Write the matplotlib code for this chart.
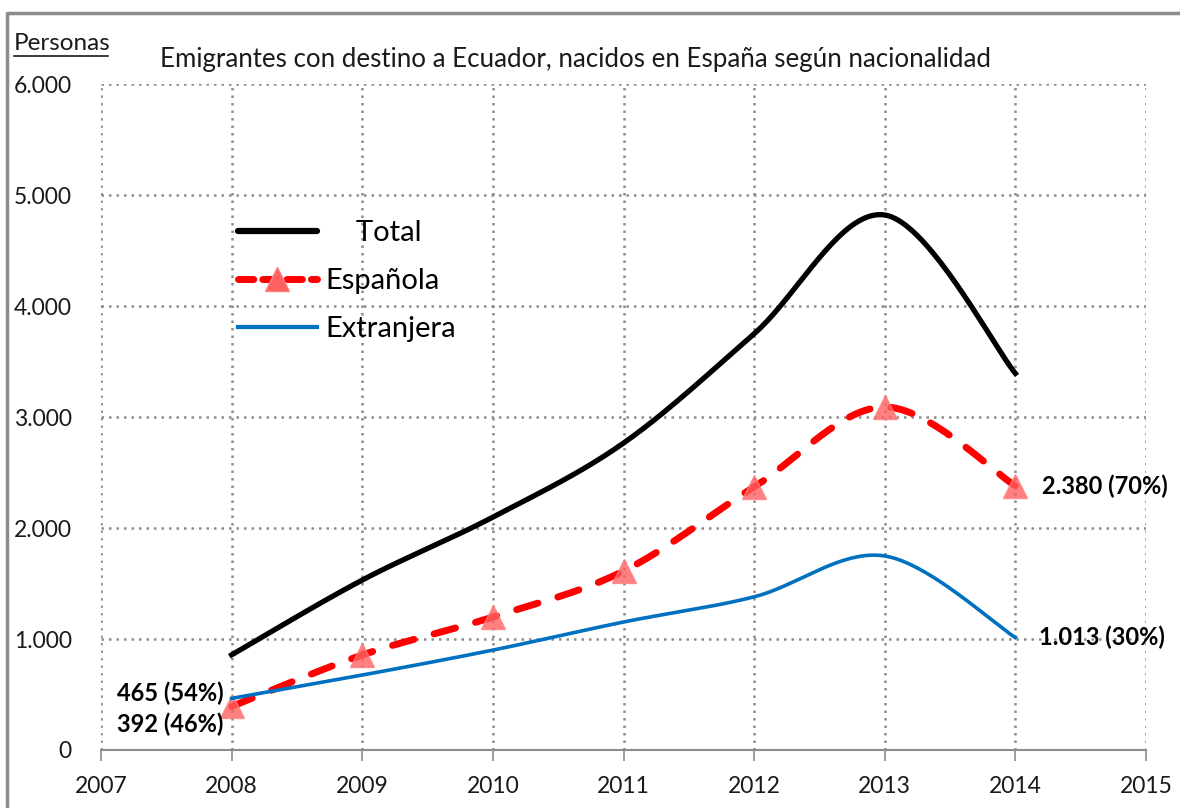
import numpy as np
import matplotlib
matplotlib.use("Agg")
import matplotlib.pyplot as plt
from matplotlib.lines import Line2D

plt.rcParams['font.family'] = ['Lato', 'DejaVu Sans']

# data
years = [2008, 2009, 2010, 2011, 2012, 2013, 2014]
total = [857, 1531, 2098, 2765, 3750, 4820, 3393]
espanola = [392, 856, 1198, 1612, 2370, 3090, 2380]
extranjera = [465, 675, 900, 1153, 1380, 1748, 1013]
labels_2008 = ["465 (54%)", "392 (46%)"]
labels_2014 = ["2.380 (70%)", "1.013 (30%)"]
yticks = [0, 1000, 2000, 3000, 4000, 5000, 6000]
ytick_labels = ["0", "1.000", "2.000", "3.000", "4.000", "5.000", "6.000"]
xticks = list(range(2007, 2016))


def smooth(x, y, n=40):
    # Excel-like smoothed line (Catmull-Rom through the points)
    x = np.asarray(x, float); y = np.asarray(y, float)
    px = np.concatenate([[x[0]], x, [x[-1]]])
    py = np.concatenate([[y[0]], y, [y[-1]]])
    xs, ys = [], []
    t = np.linspace(0, 1, n)
    for i in range(1, len(px) - 2):
        for p, out in ((px, xs), (py, ys)):
            p0, p1, p2, p3 = p[i - 1], p[i], p[i + 1], p[i + 2]
            c1 = p1 + (p2 - p0) / 6
            c2 = p2 - (p3 - p1) / 6
            out.extend((1 - t) ** 3 * p1 + 3 * (1 - t) ** 2 * t * c1
                       + 3 * (1 - t) * t ** 2 * c2 + t ** 3 * p2)
    return np.array(xs), np.array(ys)


fig = plt.figure(figsize=(11.8, 8.08), dpi=100)
ax = fig.add_axes([101 / 1180, 1 - 750 / 808, 1045 / 1180, 666 / 808])

# outer frame: only top and left edges show
fig.add_artist(Line2D([7 / 1180, 7 / 1180, 1.0], [0.0, 1 - 13 / 808, 1 - 13 / 808],
                      color='#8c8c8c', lw=2.5, transform=fig.transFigure))

red = '#FF0000'
blue = '#0070C0'

sx, sy = smooth(years, espanola)
ax.plot(sx, sy, color=red, lw=5, dashes=(3.2, 3.0), solid_capstyle='round',
        dash_capstyle='round', zorder=3)
ax.plot(years, espanola, ls='none', marker='^', ms=17, mfc='#FF6060',
        mec='#FF8080', alpha=0.8, zorder=4)
sx, sy = smooth(years, extranjera)
ax.plot(sx, sy, color=blue, lw=2.6, zorder=5)
sx, sy = smooth(years, total)
ax.plot(sx, sy, color='black', lw=3.8, zorder=6)

ax.set_xlim(2007, 2015)
ax.set_ylim(0, 6000)
ax.set_xticks(xticks)
ax.set_xticklabels([str(v) for v in xticks], fontsize=16.5, color='#1a1a1a')
ax.set_yticks(yticks)
ax.set_yticklabels(ytick_labels, fontsize=16.5, color='#1a1a1a')
ax.grid(True, color='#8c8c8c', ls=(0, (1, 2)), lw=1.8)
for s in ('top', 'right', 'left'):
    ax.spines[s].set_visible(False)
ax.spines['bottom'].set_color('#8c8c8c')
ax.spines['bottom'].set_linewidth(1.5)
ax.tick_params(axis='x', length=8, color='#8c8c8c', width=1.2, pad=11)
ax.tick_params(axis='y', length=0, pad=21)

# value labels
ax.text(years[0] - 0.06, extranjera[0] + 50, labels_2008[0], ha='right', va='center',
        fontsize=17, fontweight='bold', zorder=7)
ax.text(years[0] - 0.06, espanola[0] - 160, labels_2008[1], ha='right', va='center',
        fontsize=17, fontweight='bold', zorder=7)
ax.text(years[-1] + 0.2, espanola[-1], labels_2014[0], ha='left', va='center',
        fontsize=17, fontweight='bold', zorder=7)
ax.text(years[-1] + 0.18, extranjera[-1], labels_2014[1], ha='left', va='center',
        fontsize=17, fontweight='bold', zorder=7)

handles = [
    Line2D([], [], color='black', lw=4.5, solid_capstyle='round'),
    Line2D([], [], color=red, lw=5, dashes=(2.2, 1.3), solid_capstyle='round',
           dash_capstyle='round', marker='^', ms=17, mfc='#FF6060', mec='#FF8080'),
    Line2D([], [], color=blue, lw=3),
]
ax.legend(handles, ["    Total", "Española", "Extranjera"], loc='upper left',
          bbox_to_anchor=(0.106, 0.835), frameon=False, fontsize=21,
          handlelength=2.7, handletextpad=0.3, labelspacing=0.75)

fig.text(160 / 1180, 1 - 60 / 808,
         "Emigrantes con destino a Ecuador, nacidos en España según nacionalidad",
         fontsize=18.6, color='#1a1a1a', ha='left', va='center')
fig.text(14 / 1180, 1 - 43 / 808, "Personas", fontsize=17.5, color='#1a1a1a',
         ha='left', va='center')
fig.add_artist(Line2D([14 / 1180, 108 / 1180], [1 - 56 / 808, 1 - 56 / 808],
                      color='#1a1a1a', lw=1.2, transform=fig.transFigure))

fig.savefig("out.png", dpi=100)
